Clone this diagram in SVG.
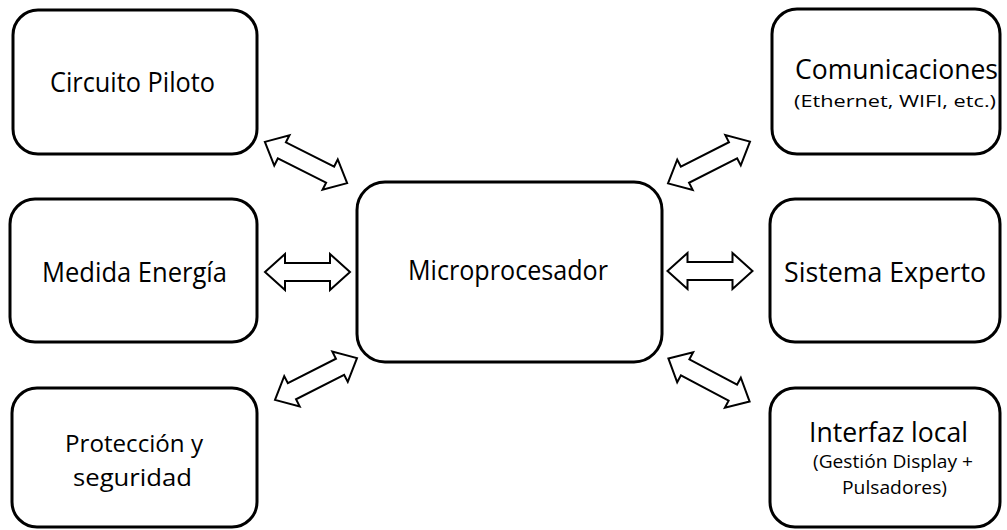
<svg xmlns="http://www.w3.org/2000/svg" width="1007" height="530" viewBox="0 0 1007 530">
<style>
.box{fill:#fff;stroke:#000;stroke-width:3}
.arr{fill:#fff;stroke:#000;stroke-width:2;stroke-linejoin:miter}
text{font-family:"Open Sans","Noto Sans","Liberation Sans",sans-serif;fill:#000;text-anchor:middle}
.t{font-size:27px}
.p{font-size:24px}
.s{font-size:16px}
.m{font-size:18px}
</style>
<defs>
<path id="dh" d="M-42.5,0 L-22.5,-18 L-22.5,-9 L22.5,-9 L22.5,-18 L42.5,0 L22.5,18 L22.5,9 L-22.5,9 L-22.5,18 Z"/>
<path id="dd" d="M-46,0 L-27,-17 L-27,-9 L27,-9 L27,-17 L46,0 L27,17 L27,9 L-27,9 L-27,17 Z"/>
</defs>
<rect width="1007" height="530" fill="#fff"/>
<g id="connectors">
<use href="#dd" class="arr" transform="translate(306,162.5) rotate(26.6)"/>
<use href="#dh" class="arr" transform="translate(307.5,272)"/>
<use href="#dd" class="arr" transform="translate(316,379) rotate(-27)"/>
<use href="#dd" class="arr" transform="translate(709,162.5) rotate(-27)"/>
<use href="#dh" class="arr" transform="translate(710,271)"/>
<use href="#dd" class="arr" transform="translate(709,380) rotate(28)"/>
</g>
<g id="circuito">
<rect class="box" x="13" y="10" width="244" height="144" rx="25"/>
<text class="t" x="132.5" y="92" textLength="165" lengthAdjust="spacingAndGlyphs">Circuito Piloto</text>
</g>
<g id="medida">
<rect class="box" x="10" y="199" width="247" height="143" rx="25"/>
<text class="t" x="134.5" y="282" textLength="185" lengthAdjust="spacingAndGlyphs">Medida Energía</text>
</g>
<g id="proteccion">
<rect class="box" x="12" y="388" width="245" height="139" rx="25"/>
<text class="p" x="134" y="452" textLength="138" lengthAdjust="spacingAndGlyphs">Protección y</text>
<text class="p" x="132.5" y="486" textLength="119" lengthAdjust="spacingAndGlyphs">seguridad</text>
</g>
<g id="micro">
<rect class="box" x="357" y="182" width="305" height="180" rx="28"/>
<text class="t" x="508" y="280" textLength="200" lengthAdjust="spacingAndGlyphs">Microprocesador</text>
</g>
<g id="comunicaciones">
<rect class="box" x="772" y="9" width="228" height="145" rx="25"/>
<text class="t" x="896.5" y="79" textLength="203" lengthAdjust="spacingAndGlyphs">Comunicaciones</text>
<text class="s" x="895" y="107" textLength="202" lengthAdjust="spacingAndGlyphs">(Ethernet, WIFI, etc.)</text>
</g>
<g id="sistema">
<rect class="box" x="770" y="199" width="230" height="143" rx="25"/>
<text class="t" x="885" y="282" textLength="202" lengthAdjust="spacingAndGlyphs">Sistema Experto</text>
</g>
<g id="interfaz">
<rect class="box" x="770" y="388" width="230" height="139" rx="25"/>
<text class="t" x="888.5" y="442" textLength="159" lengthAdjust="spacingAndGlyphs">Interfaz local</text>
<text class="m" x="893" y="468" textLength="160" lengthAdjust="spacingAndGlyphs">(Gestión Display +</text>
<text class="m" x="894.5" y="494" textLength="105" lengthAdjust="spacingAndGlyphs">Pulsadores)</text>
</g>
</svg>
